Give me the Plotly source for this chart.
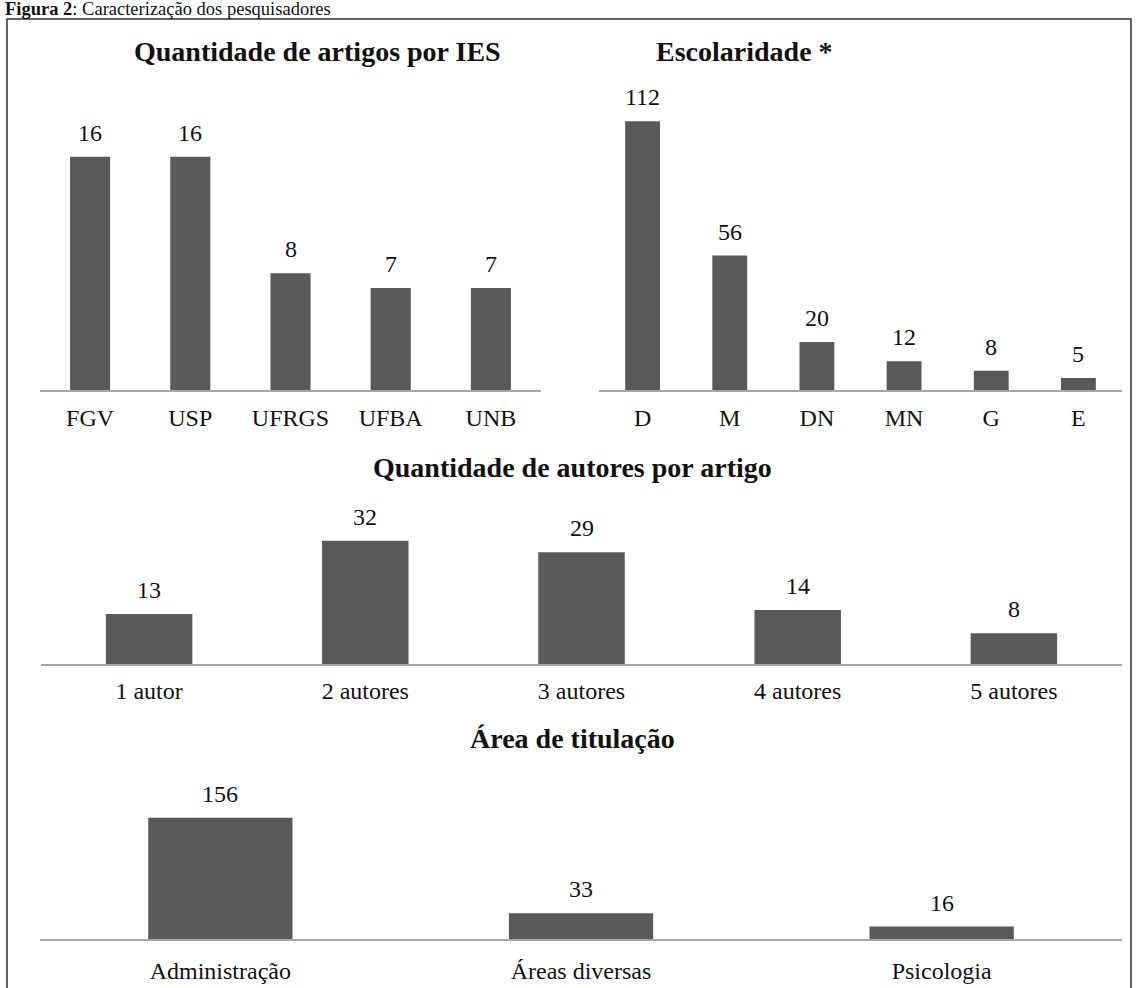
import plotly.graph_objects as go

W, H = 1137, 988

# ---- data ----
ies_labels = ["FGV", "USP", "UFRGS", "UFBA", "UNB"]
ies_values = [16, 16, 8, 7, 7]

escolaridade_labels = ["D", "M", "DN", "MN", "G", "E"]
escolaridade_values = [112, 56, 20, 12, 8, 5]

autores_labels = ["1 autor", "2 autores", "3 autores", "4 autores", "5 autores"]
autores_values = [13, 32, 29, 14, 8]

area_labels = ["Administração", "Áreas diversas", "Psicologia"]
area_values = [156, 33, 16]

BAR_COLOR = "#595959"
AXIS_COLOR = "#a6a6a6"
TEXT_COLOR = "#111111"
FONT = "Liberation Serif, Times New Roman, serif"


def px_x(v):
    return v / W


def px_y(v):
    return 1 - v / H


# panel layout in pixels: (left, right, top, bottom), y-range max, tick label standoff
panels = [
    dict(labels=ies_labels, values=ies_values, box=(40, 541, 98.4, 390), ymax=20, standoff=5),
    dict(labels=escolaridade_labels, values=escolaridade_values, box=(599, 1122, 54, 390), ymax=140, standoff=5),
    dict(labels=autores_labels, values=autores_values, box=(41, 1122, 510, 664), ymax=40, standoff=4),
    dict(labels=area_labels, values=area_values, box=(40, 1122, 783.4, 939), ymax=200, standoff=9),
]

fig = go.Figure()
annotations = []

for i, p in enumerate(panels, start=1):
    xa = "x" if i == 1 else f"x{i}"
    ya = "y" if i == 1 else f"y{i}"
    fig.add_trace(go.Bar(
        x=p["labels"], y=p["values"],
        marker=dict(color=BAR_COLOR, line=dict(width=0)),
        width=0.4,
        xaxis=xa, yaxis=ya,
        showlegend=False, hoverinfo="x+y",
    ))
    # value labels above each bar
    for lab, val in zip(p["labels"], p["values"]):
        annotations.append(dict(
            x=lab, y=val, xref=xa, yref=ya,
            text=str(val), showarrow=False,
            yanchor="bottom", yshift=9,
            font=dict(family=FONT, size=24, color=TEXT_COLOR),
        ))
    left, right, top, bottom = p["box"]
    n = len(p["labels"])
    fig.update_layout({
        f"xaxis{'' if i == 1 else i}": dict(
            domain=[px_x(left), px_x(right)],
            anchor=ya, range=[-0.5, n - 0.5],
            showline=True, linecolor=AXIS_COLOR, linewidth=2,
            showgrid=False, zeroline=False, ticks="",
            tickfont=dict(family=FONT, size=24, color=TEXT_COLOR),
            ticklabelstandoff=p["standoff"], fixedrange=True,
        ),
        f"yaxis{'' if i == 1 else i}": dict(
            domain=[px_y(bottom), px_y(top)],
            anchor=xa, range=[0, p["ymax"]],
            visible=False, fixedrange=True,
        ),
    })

# panel titles
titles = [
    ("Quantidade de artigos por IES", 317, 52),
    ("Escolaridade *", 744, 52),
    ("Quantidade de autores por artigo", 572, 467),
    ("Área de titulação", 572, 738),
]
for text, x, y in titles:
    annotations.append(dict(
        x=px_x(x), y=px_y(y), xref="paper", yref="paper",
        text=f"<b>{text}</b>", showarrow=False,
        xanchor="center", yanchor="middle",
        font=dict(family=FONT, size=28, color=TEXT_COLOR),
    ))

# figure caption above the frame
annotations.append(dict(
    x=px_x(4), y=px_y(-2), xref="paper", yref="paper",
    text="<b>Figura 2</b>: Caracterização dos pesquisadores",
    showarrow=False, xanchor="left", yanchor="top", borderpad=0,
    font=dict(family=FONT, size=18.5, color=TEXT_COLOR),
))

fig.update_layout(
    width=W, height=H,
    margin=dict(l=0, r=0, t=0, b=0),
    paper_bgcolor="white", plot_bgcolor="white",
    bargap=0.6,
    annotations=annotations,
    shapes=[dict(
        type="rect", xref="paper", yref="paper",
        x0=px_x(7), x1=px_x(1131), y0=px_y(995), y1=px_y(19),
        line=dict(color="#333333", width=1.5), fillcolor="rgba(0,0,0,0)",
    )],
)

fig.write_html("out.html")
